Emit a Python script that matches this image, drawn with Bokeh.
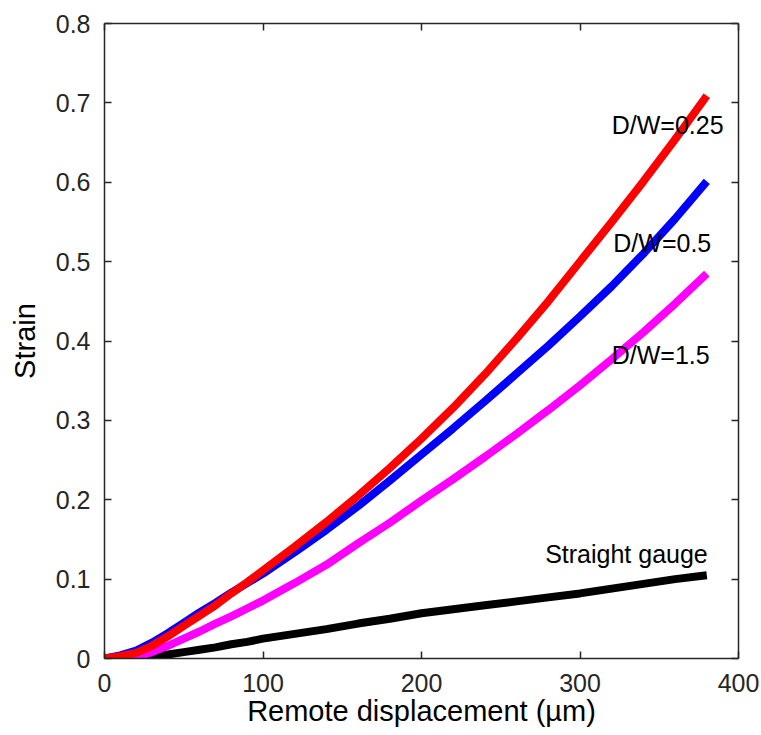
from bokeh.plotting import figure
from bokeh.models import Range1d, LinearAxis, FixedTicker, Label
from bokeh.embed import file_html
from bokeh.resources import INLINE

# Remote displacement (µm)
x_vals = [0, 10, 20, 30, 40, 50, 60, 70, 80, 90, 100, 120, 140, 160, 180,
          200, 220, 240, 260, 280, 300, 320, 340, 360, 380]

# D/W = 0.25 (red)
dw025 = [0.000, 0.003, 0.007, 0.016, 0.028, 0.041, 0.054, 0.067, 0.082, 0.096, 0.111,
         0.141, 0.172, 0.205, 0.240, 0.277, 0.316, 0.358, 0.403, 0.450, 0.500,
         0.550, 0.601, 0.654, 0.709]
# D/W = 0.5 (blue)
dw05 = [0.000, 0.004, 0.010, 0.020, 0.032, 0.045, 0.058, 0.070, 0.083, 0.095, 0.107,
        0.134, 0.162, 0.192, 0.224, 0.257, 0.290, 0.324, 0.359, 0.394, 0.431,
        0.469, 0.510, 0.554, 0.601]
# D/W = 1.5 (magenta)
dw15 = [0.000, 0.000, 0.002, 0.008, 0.016, 0.025, 0.034, 0.044, 0.053, 0.063, 0.073,
        0.095, 0.118, 0.145, 0.171, 0.199, 0.226, 0.254, 0.283, 0.313, 0.344,
        0.377, 0.411, 0.447, 0.485]
# Straight gauge (black)
straight = [0.000, 0.000, 0.000, 0.002, 0.005, 0.008, 0.011, 0.014, 0.018, 0.021, 0.025,
            0.031, 0.037, 0.044, 0.050, 0.057, 0.062, 0.067, 0.072, 0.077, 0.082,
            0.088, 0.094, 0.100, 0.105]

x_ticks = [0, 100, 200, 300, 400]
y_ticks = [0, 0.1, 0.2, 0.3, 0.4, 0.5, 0.6, 0.7, 0.8]
y_tick_labels = {0: "0", 0.1: "0.1", 0.2: "0.2", 0.3: "0.3", 0.4: "0.4",
                 0.5: "0.5", 0.6: "0.6", 0.7: "0.7", 0.8: "0.8"}

labels = ["D/W=0.25", "D/W=0.5", "D/W=1.5", "Straight gauge"]
label_x = [320, 321, 320, 278]
label_y = [0.672, 0.523, 0.382, 0.132]

FONT = "Liberation Sans"
AX = "#262626"

p = figure(width=761, height=735, output_backend="svg", toolbar_location=None,
           x_range=Range1d(0, 400), y_range=Range1d(0, 0.8),
           min_border_left=104, min_border_right=23, min_border_top=23,
           min_border_bottom=77)
p.grid.visible = False
p.outline_line_color = None
p.background_fill_color = "white"
p.border_fill_color = "white"

series = [(straight, "black"), (dw15, "#FF00FF"), (dw05, "#0000FF"), (dw025, "#FF0000")]
for ys, c in series:
    p.line(x_vals, ys, line_color=c, line_width=8)

def style_axis(ax):
    ax.axis_line_color = AX
    ax.axis_line_width = 1.5
    ax.major_tick_line_color = AX
    ax.major_tick_line_width = 1.5
    ax.major_tick_in = 7
    ax.major_tick_out = 0
    ax.minor_tick_line_color = None
    ax.major_label_text_font = FONT
    ax.major_label_text_color = AX
    ax.major_label_text_font_size = "25px"
    ax.axis_label_text_font = FONT
    ax.axis_label_text_font_style = "normal"
    ax.axis_label_text_color = "black"
    ax.axis_label_text_font_size = "29px"

xa = p.xaxis[0]
xa.ticker = FixedTicker(ticks=x_ticks)
style_axis(xa)
xa.major_label_standoff = 15
xa.axis_label = "Remote displacement (µm)"
xa.axis_label_standoff = 0

ya = p.yaxis[0]
ya.ticker = FixedTicker(ticks=y_ticks)
ya.major_label_overrides = y_tick_labels
style_axis(ya)
ya.major_label_standoff = 14
ya.axis_label = "Strain"
ya.axis_label_standoff = 12

top = LinearAxis(ticker=FixedTicker(ticks=x_ticks))
style_axis(top)
top.major_label_text_color = None
top.major_label_text_font_size = "1px"
top.major_label_standoff = 0
p.add_layout(top, "above")

right = LinearAxis(ticker=FixedTicker(ticks=y_ticks))
style_axis(right)
right.major_label_text_color = None
right.major_label_text_font_size = "1px"
right.major_label_standoff = 0
p.add_layout(right, "right")

for t, lx, ly in zip(labels, label_x, label_y):
    p.add_layout(Label(x=lx, y=ly, text=t, text_font=FONT, text_font_size="25px",
                       text_color="black", text_baseline="middle", text_align="left"))

open("out.html", "w").write(file_html(p, INLINE))
